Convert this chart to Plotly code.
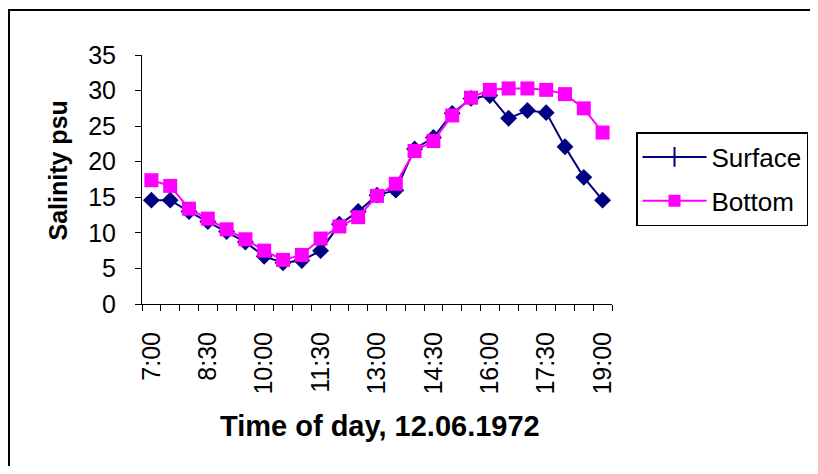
import plotly.graph_objects as go

times = ["7:00", "7:30", "8:00", "8:30", "9:00", "9:30", "10:00", "10:30", "11:00",
         "11:30", "12:00", "12:30", "13:00", "13:30", "14:00", "14:30", "15:00",
         "15:30", "16:00", "16:30", "17:00", "17:30", "18:00", "18:30", "19:00"]
surface = [14.6, 14.6, 13.0, 11.6, 10.2, 8.7, 6.7, 5.8, 6.1, 7.5, 11.2, 13.0, 15.3,
           16.0, 21.8, 23.4, 26.8, 28.9, 29.3, 26.1, 27.2, 26.9, 22.1, 17.8, 14.6]
bottom = [17.4, 16.6, 13.4, 12.0, 10.5, 9.1, 7.5, 6.2, 6.9, 9.2, 10.9, 12.2, 15.2,
          16.9, 21.5, 22.9, 26.5, 29.0, 30.1, 30.3, 30.3, 30.1, 29.5, 27.5, 24.1]
tick_labels = ["7:00", "8:30", "10:00", "11:30", "13:00", "14:30", "16:00", "17:30", "19:00"]

NAVY = "#000080"
MAGENTA = "#FF00FF"
FONT = "Liberation Sans, Arial, sans-serif"

# plot area in the reference picture (pixels)
PL, PR, PT, PB = 142, 612, 55, 304
OFF = 8  # page body offset
FW, FH = 818 - 2 * OFF, 474 - 2 * OFF  # figure fits the window without scrollbars
W, H = PR - PL, PB - PT


def px(x):
    return (x - PL) / W


def py(y):
    return (PB - y) / H


fig = go.Figure()
fig.add_trace(go.Scatter(x=times, y=surface, mode="lines+markers", name="Surface",
                         line=dict(color=NAVY, width=2),
                         marker=dict(symbol="diamond", size=13, color=NAVY),
                         showlegend=False))
fig.add_trace(go.Scatter(x=times, y=bottom, mode="lines+markers", name="Bottom",
                         line=dict(color=MAGENTA, width=2),
                         marker=dict(symbol="square", size=14, color=MAGENTA),
                         showlegend=False))
# legend entries styled like the original
fig.add_trace(go.Scatter(x=[None], y=[None], mode="lines+markers", name="Surface",
                         line=dict(color=NAVY, width=2), legendgroup="s",
                         marker=dict(symbol="line-ns", size=14, color=NAVY,
                                     line=dict(color=NAVY, width=2))))
fig.add_trace(go.Scatter(x=[None], y=[None], mode="lines+markers", name="Bottom",
                         line=dict(color=MAGENTA, width=2), legendgroup="b",
                         marker=dict(symbol="square", size=12, color=MAGENTA)))

ticktext = [t if t in tick_labels else "" for t in times]

fig.update_layout(
    width=FW, height=FH,
    margin=dict(l=PL - OFF, r=FW - (PL - OFF) - W, t=PT - OFF,
                b=FH - (PT - OFF) - H, autoexpand=False),
    paper_bgcolor="white", plot_bgcolor="white",
    font=dict(family=FONT, color="black", size=25),
    xaxis=dict(type="category", tickmode="array", tickvals=times, ticktext=ticktext,
               tickson="boundaries", ticks="outside", ticklen=6, tickcolor="black",
               tickangle=-90, showline=True, linecolor="black", linewidth=1,
               showgrid=False, zeroline=False, range=[-0.5, 24.5],
               tickfont=dict(size=25), ticklabelstandoff=17),
    yaxis=dict(range=[0, 35], dtick=5, tick0=0, ticks="outside", ticklen=6,
               tickcolor="black", showline=True, linecolor="black", linewidth=1,
               showgrid=False, zeroline=False, tickfont=dict(size=25),
               ticklabelstandoff=14),
    legend=dict(x=px(636), y=py(132), xanchor="left", yanchor="top",
                bordercolor="black", borderwidth=1.5, bgcolor="white",
                font=dict(size=26), itemwidth=64, traceorder="grouped",
                tracegroupgap=7),
    annotations=[
        dict(text="<b>Salinity psu</b>", xref="paper", yref="paper",
             x=px(57.5), y=py(171), showarrow=False,
             textangle=-90, font=dict(size=25), xanchor="center", yanchor="middle"),
        dict(text="<b>Time of day, 12.06.1972</b>", xref="paper", yref="paper",
             x=px(380), y=py(426), showarrow=False,
             font=dict(size=29), xanchor="center", yanchor="middle"),
    ],
    shapes=[dict(type="rect", xref="paper", yref="paper",
                 x0=px(9), x1=px(830), y0=py(485), y1=py(10),
                 line=dict(color="black", width=2), layer="below")],
)

fig.write_html("out.html")
